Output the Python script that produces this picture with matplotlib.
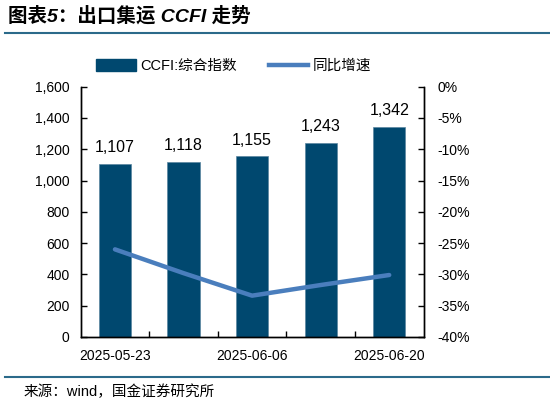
import matplotlib
matplotlib.use("Agg")
import matplotlib.pyplot as plt
from matplotlib.lines import Line2D
import numpy as np

plt.rcParams['font.family'] = ['Liberation Sans', 'Noto Sans CJK SC', 'DejaVu Sans']

dates = ["2025-05-23", "2025-05-30", "2025-06-06", "2025-06-13", "2025-06-20"]
ccfi = [1107, 1118, 1155, 1243, 1342]
yoy = [-26.0, -29.8, -33.4, -31.7, -30.1]
shown_dates = ["2025-05-23", "2025-06-06", "2025-06-20"]

bar_color = "#00486F"
line_color = "#4A7EBD"
rule_color = "#2B6A8A"

fig = plt.figure(figsize=(5.5, 4.05), dpi=100)
ax = fig.add_axes([0.1467, 0.168, 0.6233, 0.618])
ax2 = ax.twinx()

x = np.arange(len(dates))
bars = ax.bar(x, ccfi, width=0.47, color=bar_color, edgecolor="#5A86A0", linewidth=0.5, zorder=2)
for xi, v in zip(x, ccfi):
    ax.text(xi, v + 55, f"{v:,}", ha="center", va="bottom", fontsize=11.5)

ax2.plot(x, yoy, color=line_color, linewidth=3.2, solid_capstyle="round", zorder=3)

ax.set_xlim(-0.5, len(dates) - 0.5)
ax.set_ylim(0, 1600)
ax.set_yticks(np.arange(0, 1601, 200))
ax.set_yticklabels([f"{v:,}" for v in range(0, 1601, 200)], fontsize=10)
ax2.set_ylim(-40, 0)
ax2.set_yticks(np.arange(-40, 1, 5))
ax2.set_yticklabels([f"{v}%" for v in range(-40, 1, 5)], fontsize=10)

ax.set_xticks(x[:-1] + 0.5)
ax.set_xticklabels([])
idx = [dates.index(d) for d in shown_dates]
ax.set_xticks(idx, minor=True)
ax.set_xticklabels(shown_dates, minor=True, fontsize=10)
ax.tick_params(axis="x", which="major", direction="in", length=4, width=1)
ax.tick_params(axis="x", which="minor", length=0, pad=9)
ax.tick_params(axis="y", direction="in", length=4, width=1, pad=8)
ax2.tick_params(axis="y", direction="in", length=4, width=1, pad=10)

for a in (ax, ax2):
    a.spines["top"].set_visible(False)
    for s in ("left", "right", "bottom"):
        a.spines[s].set_linewidth(1)

handles = [
    plt.Rectangle((0, 0), 1, 1, color=bar_color),
    Line2D([0], [0], color=line_color, linewidth=3.2),
]
fig.legend(handles, ["CCFI:综合指数", "同比增速"], loc="center", bbox_to_anchor=(0.425, 0.837),
           ncol=2, frameon=False, fontsize=10.5, handlelength=2.7, handleheight=0.9,
           handletextpad=0.3, columnspacing=2.2)

fig.text(0.015, 0.962, "图表5：出口集运 CCFI 走势", fontsize=14, fontweight="bold",
         ha="left", va="center", style="italic")
fig.add_artist(Line2D([0.009, 1.0], [1 - 32.7 / 405] * 2, color=rule_color, linewidth=1.5))
fig.add_artist(Line2D([0.009, 1.0], [1 - 376.7 / 405] * 2, color=rule_color, linewidth=1.5))
fig.text(0.042, 1 - 392 / 405, "来源：wind，国金证券研究所", fontsize=10.5, ha="left", va="center")

fig.savefig("out.png", dpi=100)
